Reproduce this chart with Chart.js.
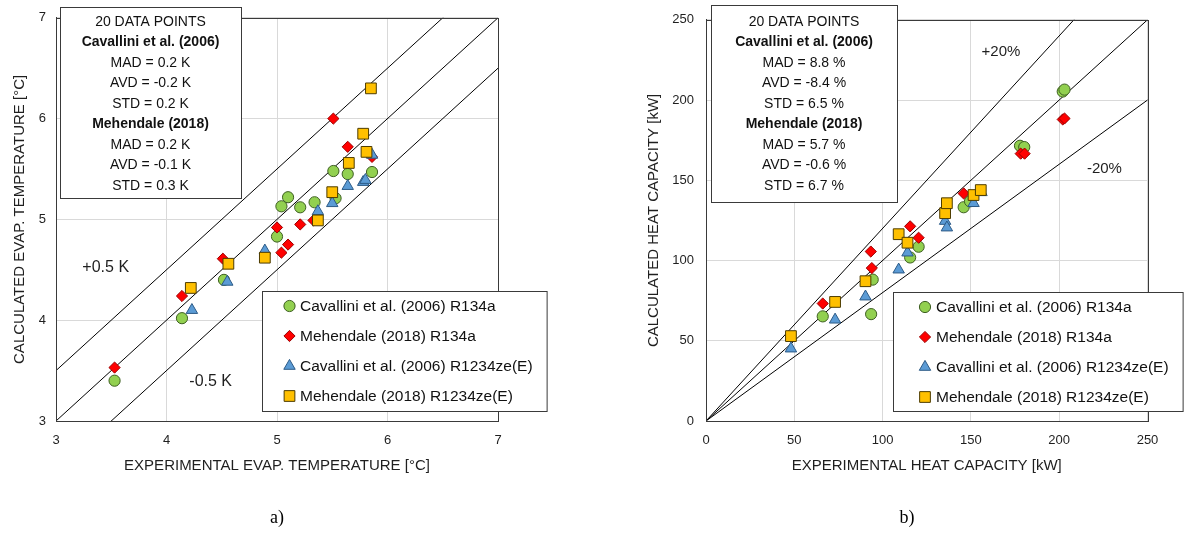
<!DOCTYPE html>
<html>
<head>
<meta charset="utf-8">
<script src="https://cdn.jsdelivr.net/npm/chart.js@4.4.1/dist/chart.umd.min.js"></script>
<style>
html,body{margin:0;padding:0;background:#fff;width:1197px;height:533px;overflow:hidden;}
canvas{position:absolute;left:0;top:0;}
.cap{position:absolute;top:506px;width:60px;margin-left:-30px;text-align:center;font-family:'Liberation Serif','Times New Roman',serif;font-size:18px;line-height:22px;color:#000;}
</style>
</head>
<body>
<canvas id="c1" width="1197" height="533"></canvas>
<canvas id="c2" width="1197" height="533"></canvas>
<div class="cap" style="left:277px">a)</div>
<div class="cap" style="left:907px">b)</div>
<script>
// ---------------- DATA ----------------
const SERIES_NAMES = ['Cavallini et al. (2006) R134a', 'Mehendale (2018) R134a',
                      'Cavallini et al. (2006) R1234ze(E)', 'Mehendale (2018) R1234ze(E)'];

// a) evaporation temperature [°C] : experimental (x) / calculated (y)
const TEMP_CAV_R134A_EXP  = [3.53, 4.14, 4.52, 5.00, 5.04, 5.10, 5.21, 5.34, 5.51, 5.53, 5.64, 5.86];
const TEMP_CAV_R134A_CALC = [3.40, 4.02, 4.40, 4.83, 5.13, 5.22, 5.12, 5.17, 5.48, 5.21, 5.45, 5.47];
const TEMP_MEH_R134A_EXP  = [3.53, 4.14, 4.51, 5.00, 5.04, 5.10, 5.21, 5.33, 5.51, 5.64, 5.86];
const TEMP_MEH_R134A_CALC = [3.53, 4.24, 4.61, 4.92, 4.67, 4.75, 4.95, 4.99, 6.00, 5.72, 5.62];
const TEMP_CAV_R1234_EXP  = [4.23, 4.55, 4.89, 5.37, 5.50, 5.64, 5.78, 5.80, 5.86];
const TEMP_CAV_R1234_CALC = [4.10, 4.38, 4.69, 5.08, 5.16, 5.33, 5.37, 5.39, 5.64];
const TEMP_MEH_R1234_EXP  = [4.22, 4.56, 4.89, 5.37, 5.50, 5.65, 5.78, 5.81, 5.85];
const TEMP_MEH_R1234_CALC = [4.32, 4.56, 4.62, 4.99, 5.27, 5.56, 5.85, 5.67, 6.30];
const TEMP_TICKS = [3, 4, 5, 6, 7];
const TEMP_BAND_OFFSETS = [0.5, 0, -0.5];
const TEMP_BAND_LABELS = ['+0.5 K', '-0.5 K'];
const TEMP_STATS_CAV = ['MAD = 0.2 K', 'AVD = -0.2 K', 'STD = 0.2 K'];
const TEMP_STATS_MEH = ['MAD = 0.2 K', 'AVD = -0.1 K', 'STD = 0.3 K'];

// b) heat capacity [kW] : experimental (x) / calculated (y)
const CAP_CAV_R134A_EXP  = [202.0, 203.0, 177.8, 180.2, 145.9, 149.5, 120.4, 115.6, 94.4, 93.5, 66.1];
const CAP_CAV_R134A_CALC = [205.3, 206.5, 171.5, 170.7, 133.2, 136.9, 108.6, 101.9, 88.1, 66.6, 65.2];
const CAP_MEH_R134A_EXP  = [202.0, 203.0, 178.2, 180.4, 145.9, 115.6, 120.4, 93.3, 93.9, 66.1];
const CAP_MEH_R134A_CALC = [187.9, 188.5, 166.6, 166.6, 141.8, 121.3, 114.2, 105.6, 95.3, 73.2];
const CAP_CAV_R1234_EXP  = [48.1, 73.1, 90.3, 109.1, 114.1, 135.4, 136.4, 151.5, 156.0];
const CAP_CAV_R1234_CALC = [45.1, 63.1, 77.5, 94.3, 104.9, 124.6, 120.5, 135.7, 142.5];
const CAP_MEH_R1234_EXP  = [48.1, 73.1, 90.3, 109.1, 114.1, 135.4, 136.4, 151.5, 155.6];
const CAP_MEH_R1234_CALC = [52.9, 74.2, 87.1, 116.4, 111.1, 129.5, 135.7, 140.8, 143.9];
const CAP_TICKS = [0, 50, 100, 150, 200, 250];
const CAP_BAND_RATIOS = [1.2, 1.0, 0.8];
const CAP_BAND_LABELS = ['+20%', '-20%'];
const CAP_STATS_CAV = ['MAD = 8.8 %', 'AVD = -8.4 %', 'STD = 6.5 %'];
const CAP_STATS_MEH = ['MAD = 5.7 %', 'AVD = -0.6 %', 'STD = 6.7 %'];

const INFO_HEAD = '20 DATA POINTS';
const INFO_CAV = 'Cavallini et al. (2006)';
const INFO_MEH = 'Mehendale (2018)';

// ---------------- STYLE ----------------
const FONT = "'Liberation Sans', Arial, sans-serif";
const LEGEND_FONT = '15.5px ' + FONT;
Chart.defaults.font.family = FONT;
Chart.defaults.color = '#1f1f1f';
Chart.defaults.animation = false;

const MARKERS = [
  {pointStyle: 'circle',   radius: 5.6, bg: '#92D050', border: '#3e5f22'},
  {pointStyle: 'rectRot',  radius: 5.6, bg: '#FF0000', border: '#9a0000'},
  {pointStyle: 'triangle', radius: 6.6, bg: '#5B9BD5', border: '#2c5a86'},
  {pointStyle: 'rect',     radius: 7.6, bg: '#FFC000', border: '#4d3c00'}
];

function pts(xs, ys) { return xs.map((x, i) => ({x: x, y: ys[i]})); }

function markerSets(pairs) {
  return pairs.map((p, i) => ({
    label: SERIES_NAMES[i],
    data: pts(p[0], p[1]),
    pointStyle: MARKERS[i].pointStyle,
    pointRadius: MARKERS[i].radius,
    pointBackgroundColor: MARKERS[i].bg,
    pointBorderColor: MARKERS[i].border,
    pointBorderWidth: 1,
    showLine: false,
    order: 10 - i
  }));
}

function lineSet(data) {
  return {label: '', data: data, showLine: true, pointRadius: 0, borderColor: '#000',
          borderWidth: 1, order: 20, fill: false};
}

function drawMarker(ctx, m, x, y) {
  ctx.fillStyle = m.bg; ctx.strokeStyle = m.border; ctx.lineWidth = 1;
  if (Chart.helpers && Chart.helpers.drawPoint) {
    Chart.helpers.drawPoint(ctx, {pointStyle: m.pointStyle, radius: m.radius, rotation: 0, borderWidth: 1}, x, y);
  }
}

const annotPlugin = {
  id: 'annot',
  afterDatasetsDraw(chart) {
    const o = chart.options.plugins.annot;
    if (!o) return;
    const ctx = chart.ctx, a = chart.chartArea;
    const xs = chart.scales.x, ys = chart.scales.y;
    ctx.save();
    // plot area frame
    ctx.strokeStyle = '#3a3a3a'; ctx.lineWidth = 1;
    const L = Math.round(a.left) + 0.5, T = Math.round(a.top) + 0.5;
    ctx.strokeRect(L, T, Math.round(a.right) - Math.round(a.left), Math.round(a.bottom) - Math.round(a.top));
    // band labels
    ctx.fillStyle = '#1f1f1f'; ctx.textAlign = 'center'; ctx.textBaseline = 'middle';
    o.labels.forEach(l => {
      ctx.font = l.size + 'px ' + FONT;
      ctx.fillText(l.text, xs.getPixelForValue(l.x), ys.getPixelForValue(l.y));
    });
    // info box
    const b = o.info;
    ctx.fillStyle = '#fff'; ctx.fillRect(b.x, b.y, b.w, b.h);
    ctx.strokeStyle = '#3a3a3a'; ctx.strokeRect(b.x + 0.5, b.y + 0.5, b.w, b.h);
    ctx.fillStyle = '#111';
    b.lines.forEach((ln, i) => {
      ctx.font = (ln.bold ? 'bold ' : '') + '14px ' + FONT;
      ctx.fillText(ln.text, b.x + b.w / 2, b.firstY + i * b.step);
    });
    // legend
    const g = o.legend;
    ctx.font = LEGEND_FONT;
    let mw = 0;
    SERIES_NAMES.forEach(s => { mw = Math.max(mw, ctx.measureText(s).width); });
    const gw = g.textX + mw + 14 - g.x;
    ctx.fillStyle = '#fff'; ctx.fillRect(g.x, g.y, gw, g.h);
    ctx.strokeStyle = '#3a3a3a'; ctx.strokeRect(g.x + 0.5, g.y + 0.5, gw, g.h);
    SERIES_NAMES.forEach((s, i) => {
      const yy = g.firstY + i * g.step;
      drawMarker(ctx, MARKERS[i], g.markerX, yy);
      ctx.fillStyle = '#111'; ctx.textAlign = 'left'; ctx.textBaseline = 'middle';
      ctx.font = LEGEND_FONT;
      ctx.fillText(s, g.textX, yy + 1);
    });
    ctx.restore();
  }
};

function infoLines(stCav, stMeh) {
  return [{text: INFO_HEAD}, {text: INFO_CAV, bold: true}]
    .concat(stCav.map(t => ({text: t})))
    .concat([{text: INFO_MEH, bold: true}])
    .concat(stMeh.map(t => ({text: t})));
}

function axis(ticks, title, isY, titlePad, tickPad, fitSize) {
  return {
    type: 'linear',
    min: ticks[0], max: ticks[ticks.length - 1],
    ticks: {stepSize: ticks[1] - ticks[0], font: {size: 13}, padding: tickPad, color: '#1f1f1f'},
    grid: {color: '#d9d9d9', lineWidth: 1, drawTicks: false},
    border: {display: true, color: '#3a3a3a', width: 1},
    title: {display: true, text: title, font: {size: 15}, color: '#1f1f1f', padding: titlePad},
    afterFit: s => { if (isY) s.width = fitSize; else s.height = fitSize; }
  };
}

// ---------------- CHART a) ----------------
const tempLines = TEMP_BAND_OFFSETS.map(off => lineSet([
  {x: TEMP_TICKS[0] - 1, y: TEMP_TICKS[0] - 1 + off},
  {x: TEMP_TICKS[TEMP_TICKS.length - 1] + 1, y: TEMP_TICKS[TEMP_TICKS.length - 1] + 1 + off}]));

new Chart(document.getElementById('c1'), {
  type: 'scatter',
  data: {datasets: markerSets([
    [TEMP_CAV_R134A_EXP, TEMP_CAV_R134A_CALC],
    [TEMP_MEH_R134A_EXP, TEMP_MEH_R134A_CALC],
    [TEMP_CAV_R1234_EXP, TEMP_CAV_R1234_CALC],
    [TEMP_MEH_R1234_EXP, TEMP_MEH_R1234_CALC]]).concat(tempLines)},
  options: {
    responsive: false, events: [],
    layout: {padding: {left: 10, top: 13, right: 699, bottom: 52}},
    scales: {
      x: axis(TEMP_TICKS, 'EXPERIMENTAL EVAP. TEMPERATURE [°C]', false, {top: 0, bottom: 6}, 12, 60),
      y: axis(TEMP_TICKS, 'CALCULATED EVAP. TEMPERATURE [°C]', true, {top: 1, bottom: 0}, 10, 46)
    },
    plugins: {
      legend: {display: false}, tooltip: {enabled: false},
      annot: {
        labels: [{text: TEMP_BAND_LABELS[0], x: 3.45, y: 4.52, size: 16},
                 {text: TEMP_BAND_LABELS[1], x: 4.40, y: 3.39, size: 16}],
        info: {x: 60, y: 7, w: 181, h: 191, firstY: 22, step: 20.5, lines: infoLines(TEMP_STATS_CAV, TEMP_STATS_MEH)},
        legend: {x: 262, y: 291, h: 120, markerX: 289.5, textX: 300, firstY: 306, step: 30}
      }
    }
  },
  plugins: [annotPlugin]
});

// ---------------- CHART b) ----------------
const capMax = CAP_TICKS[CAP_TICKS.length - 1];
const capLines = CAP_BAND_RATIOS.map(r => lineSet([{x: 0, y: 0}, {x: capMax * 2, y: capMax * 2 * r}]));

new Chart(document.getElementById('c2'), {
  type: 'scatter',
  data: {datasets: markerSets([
    [CAP_CAV_R134A_EXP, CAP_CAV_R134A_CALC],
    [CAP_MEH_R134A_EXP, CAP_MEH_R134A_CALC],
    [CAP_CAV_R1234_EXP, CAP_CAV_R1234_CALC],
    [CAP_MEH_R1234_EXP, CAP_MEH_R1234_CALC]]).concat(capLines)},
  options: {
    responsive: false, events: [],
    layout: {padding: {left: 644, top: 13, right: 49.5, bottom: 52}},
    scales: {
      x: axis(CAP_TICKS, 'EXPERIMENTAL HEAT CAPACITY [kW]', false, {top: 0, bottom: 6}, 12, 60),
      y: axis(CAP_TICKS, 'CALCULATED HEAT CAPACITY [kW]', true, {top: 1, bottom: 0}, 12, 62)
    },
    plugins: {
      legend: {display: false}, tooltip: {enabled: false},
      annot: {
        labels: [{text: CAP_BAND_LABELS[0], x: 167, y: 230, size: 15},
                 {text: CAP_BAND_LABELS[1], x: 225.6, y: 157, size: 15}],
        info: {x: 711, y: 5, w: 186, h: 197, firstY: 22, step: 20.5, lines: infoLines(CAP_STATS_CAV, CAP_STATS_MEH)},
        legend: {x: 893, y: 292, h: 119, markerX: 925, textX: 936, firstY: 307, step: 30}
      }
    }
  },
  plugins: [annotPlugin]
});
</script>
</body>
</html>
